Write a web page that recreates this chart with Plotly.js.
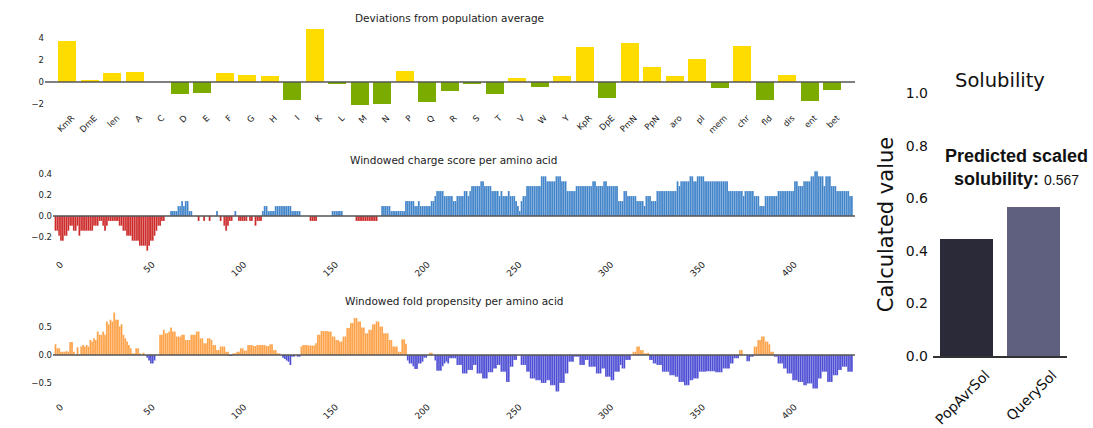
<!DOCTYPE html>
<html><head><meta charset="utf-8">
<script src="https://cdn.plot.ly/plotly-3.0.1.min.js"></script>
<style>html,body{margin:0;padding:0;background:#fff}#chart{width:1093px;height:428px}</style>
</head><body><div id="chart"></div>
<script>
const categories = ['KmR','DmE','len','A','C','D','E','F','G','H','I','K','L','M','N','P','Q','R','S','T','V','W','Y','KpR','DpE','PmN','PpN','aro','pI','mem','chr','fld','dis','ent','bet'];
const deviations = [3.73,0.15,0.82,0.9,0,-1.06,-0.97,0.82,0.64,0.55,-1.67,4.79,-0.15,-2.06,-1.97,1.03,-1.85,-0.79,-0.15,-1.06,0.39,-0.45,0.52,3.21,-1.48,3.58,1.36,0.58,2.09,-0.55,3.24,-1.61,0.64,-1.73,-0.7];

const chargeScore = [
-0.143,-0.143,-0.190,-0.238,-0.238,-0.190,-0.190,-0.143,-0.095,-0.095,
-0.143,-0.143,-0.095,-0.190,-0.143,-0.143,-0.143,-0.143,-0.143,-0.143,
-0.143,-0.095,-0.095,-0.095,-0.048,-0.048,-0.095,-0.143,-0.095,-0.048,
-0.048,-0.048,-0.048,-0.048,-0.048,-0.095,-0.095,-0.143,-0.143,-0.190,
-0.190,-0.190,-0.238,-0.238,-0.238,-0.238,-0.286,-0.286,-0.286,-0.286,
-0.333,-0.286,-0.238,-0.238,-0.190,-0.143,-0.095,-0.095,-0.048,-0.048,
0,0,0,0.048,0.048,0.048,0.048,0.095,0.095,0.143,
0.095,0.143,0.143,0.048,0.048,0,0,0,-0.048,0,
0,-0.048,0,0,-0.048,0,0,0,0.048,0,
-0.048,0,-0.095,-0.143,-0.095,-0.048,-0.048,0,0.048,0,
-0.048,-0.048,-0.048,-0.048,-0.048,0,-0.048,-0.048,0,-0.095,
-0.048,-0.048,-0.048,0.048,0.095,0.095,0.048,0.048,0.048,0.048,
0.095,0.095,0.095,0.095,0.095,0.095,0.095,0.095,0.095,0.048,
0.048,0.048,0.048,0.048,0,0,0,0,0,-0.048,
-0.048,-0.048,-0.048,0,0,0,0,0,0,0,
0,0.048,0.048,0.048,0.048,0.048,0.048,0,0,0,
0,0,0,0,-0.048,-0.048,-0.048,-0.048,-0.048,-0.048,
-0.048,-0.048,-0.048,-0.048,-0.048,-0.048,0,0,0.095,0.095,
0.095,0.095,0.095,0.048,0.048,0.048,0.048,0.048,0.048,0.048,
0.048,0.143,0.143,0.143,0.143,0.143,0.095,0.095,0.143,0.095,
0.095,0.095,0.095,0.095,0.095,0.143,0.143,0.190,0.238,0.238,
0.238,0.238,0.190,0.190,0.190,0.190,0.190,0.143,0.143,0.190,
0.190,0.190,0.190,0.238,0.238,0.190,0.238,0.286,0.286,0.286,
0.286,0.286,0.333,0.333,0.286,0.286,0.286,0.286,0.238,0.238,
0.238,0.238,0.190,0.238,0.190,0.190,0.190,0.238,0.190,0.190,
0.190,0.143,0.095,0.048,0.143,0.190,0.190,0.286,0.286,0.286,
0.286,0.286,0.286,0.286,0.286,0.381,0.381,0.381,0.333,0.333,
0.333,0.333,0.333,0.381,0.381,0.381,0.333,0.333,0.333,0.238,
0.238,0.238,0.238,0.238,0.286,0.286,0.286,0.286,0.286,0.286,
0.286,0.286,0.286,0.333,0.333,0.286,0.286,0.286,0.286,0.333,
0.333,0.286,0.286,0.286,0.286,0.286,0.286,0.143,0.143,0.143,
0.238,0.238,0.190,0.190,0.190,0.190,0.190,0.143,0.143,0.143,
0.143,0.095,0.190,0.190,0.190,0.143,0.143,0.143,0.238,0.238,
0.238,0.238,0.238,0.238,0.238,0.238,0.238,0.238,0.238,0.333,
0.286,0.333,0.333,0.333,0.333,0.333,0.381,0.381,0.333,0.333,
0.381,0.381,0.381,0.381,0.333,0.333,0.333,0.333,0.333,0.333,
0.333,0.333,0.333,0.333,0.333,0.333,0.333,0.238,0.238,0.238,
0.238,0.238,0.238,0.238,0.238,0.190,0.238,0.238,0.238,0.238,
0.238,0.190,0.190,0.190,0.095,0.095,0.095,0.190,0.190,0.190,
0.190,0.190,0.190,0.190,0.238,0.238,0.238,0.238,0.238,0.238,
0.238,0.238,0.238,0.333,0.333,0.286,0.286,0.286,0.333,0.333,
0.333,0.333,0.381,0.381,0.429,0.429,0.381,0.381,0.381,0.286,
0.381,0.381,0.381,0.286,0.286,0.286,0.238,0.238,0.238,0.238,
0.238,0.238,0.238,0.190,0.190];

const foldPropensity = [
0.19,0.12,0.12,0.06,0.06,0.06,0.07,0.06,0.23,0.23,
0.06,0,0.14,0.02,0.15,0.18,0.15,0.18,0.15,0.27,
0.24,0.30,0.27,0.42,0.36,0.36,0.42,0.36,0.60,0.55,
0.63,0.60,0.76,0.63,0.63,0.51,0.55,0.36,0.30,0.24,
0.18,0.12,0.03,0.03,0.12,0.12,0.03,0,0.04,0,
-0.05,-0.10,-0.15,-0.15,-0.10,0,0,0.36,0.36,0.45,
0.39,0.39,0.42,0.49,0.42,0.42,0.33,0.33,0.33,0.36,
0.36,0.27,0.27,0.27,0.36,0.36,0.36,0.42,0.42,0.30,
0.30,0.21,0.21,0.30,0.30,0.27,0.18,0.18,0.09,0.09,
0.15,0.15,0.15,0.06,0.06,-0.02,-0.02,0.03,0.03,0.06,
0.06,0.12,0.12,0.08,0.08,0.18,0.18,0.18,0.16,0.16,
0.18,0.18,0.18,0.18,0.18,0.16,0.16,0.19,0.19,0.09,
0.09,0.03,0.03,0,-0.05,-0.07,-0.10,-0.12,-0.18,-0.03,
-0.03,0,-0.03,-0.03,0.15,0.18,0.18,0.18,0.17,0.17,
0.17,0.17,0.21,0.36,0.36,0.43,0.43,0.43,0.43,0.42,
0.42,0.33,0.33,0.27,0.27,0.24,0.24,0.33,0.33,0.48,
0.48,0.57,0.57,0.66,0.66,0.60,0.60,0.49,0.49,0.39,
0.39,0.45,0.45,0.55,0.55,0.60,0.60,0.51,0.51,0.39,
0.39,0.39,0.27,0.27,0.15,0.15,0.15,0.06,0.06,0.28,
0.28,0.20,-0.10,-0.15,-0.15,-0.20,-0.25,-0.25,-0.15,-0.15,
-0.12,-0.05,-0.05,0,0.04,0.04,0,-0.10,-0.28,-0.28,
-0.28,-0.20,-0.15,-0.12,-0.15,-0.06,-0.06,-0.06,-0.06,-0.18,
-0.18,-0.18,-0.33,-0.33,-0.33,-0.27,-0.27,-0.27,-0.18,-0.18,
-0.33,-0.33,-0.33,-0.42,-0.42,-0.42,-0.31,-0.31,-0.31,-0.24,
-0.24,-0.18,-0.18,-0.30,-0.30,-0.30,-0.48,-0.48,-0.21,-0.21,
-0.09,-0.09,0,0,-0.18,-0.18,-0.18,-0.30,-0.30,-0.42,
-0.42,-0.42,-0.45,-0.45,-0.45,-0.50,-0.50,-0.50,-0.45,-0.45,
-0.54,-0.54,-0.54,-0.65,-0.65,-0.50,-0.50,-0.50,-0.33,-0.33,
-0.12,-0.12,-0.12,-0.03,-0.03,-0.03,-0.18,-0.18,-0.18,-0.09,
-0.09,-0.21,-0.21,-0.21,-0.21,-0.33,-0.33,-0.33,-0.24,-0.24,
-0.39,-0.39,-0.39,-0.45,-0.45,-0.30,-0.30,-0.30,-0.18,-0.24,
-0.24,-0.09,-0.09,-0.09,0,0.06,0.06,0.15,0.15,0.09,
0.09,0.03,0.03,0.04,-0.09,-0.09,-0.15,-0.15,-0.18,-0.18,
-0.18,-0.30,-0.30,-0.30,-0.30,-0.36,-0.36,-0.36,-0.39,-0.39,
-0.48,-0.48,-0.48,-0.54,-0.54,-0.54,-0.45,-0.45,-0.42,-0.42,
-0.42,-0.30,-0.30,-0.30,-0.30,-0.29,-0.29,-0.29,-0.29,-0.29,
-0.31,-0.31,-0.31,-0.31,-0.24,-0.24,-0.24,-0.24,-0.15,-0.15,
-0.06,-0.06,-0.06,0.09,0.09,0,0,-0.11,-0.11,-0.03,
-0.03,0.15,0.15,0.27,0.27,0.33,0.33,0.24,0.24,0.19,
0.06,0.06,-0.03,-0.03,-0.15,-0.15,-0.15,-0.24,-0.24,-0.33,
-0.33,-0.33,-0.45,-0.45,-0.45,-0.48,-0.48,-0.48,-0.54,-0.54,
-0.51,-0.51,-0.51,-0.60,-0.60,-0.60,-0.42,-0.42,-0.30,-0.30,
-0.30,-0.48,-0.48,-0.48,-0.36,-0.36,-0.36,-0.27,-0.27,-0.21,
-0.21,-0.21,-0.30,-0.30,-0.30];

const residueTicks = [0,50,100,150,200,250,300,350,400];
const solCategories = ['PopAvrSol','QuerySol'];
const solValues = [0.446, 0.567];
const predictedSolubility = 0.567;

const W = 1093, H = 428;
const px = v => v / W;
const py = v => 1 - v / H;
const residues = chargeScore.map((_, i) => i);
const FONT = 'DejaVu Sans, sans-serif';
const tickF = {family: FONT, size: 8.5, color: '#222'};
const sep = {width:0.3, color:'rgba(255,255,255,0.55)'};

const traces = [
  {type:'bar', x: categories, y: deviations, xaxis:'x', yaxis:'y', width: 0.8,
   marker:{color: deviations.map(v => v < 0 ? '#7cab00' : '#ffdc00'), line:{width:0}}},
  {type:'bar', x: residues, y: chargeScore, xaxis:'x2', yaxis:'y2', width: 1,
   marker:{color: chargeScore.map(v => v < 0 ? '#cc2424' : '#3b80c8'), line: sep}},
  {type:'bar', x: residues, y: foldPropensity, xaxis:'x3', yaxis:'y3', width: 1,
   marker:{color: foldPropensity.map(v => v < 0 ? '#4848d4' : '#fd9f42'), line: sep}},
  {type:'bar', x: solCategories, y: solValues, xaxis:'x4', yaxis:'y4', width: 0.8,
   marker:{color: ['#2b2a38', '#5f5f7f'], line:{width:0}}}
];

const baseX = {showgrid:false, zeroline:false, showline:false, ticks:'', tickfont: tickF, fixedrange:true};
const baseY = {showgrid:false, zeroline:false, showline:false, ticks:'', tickfont: tickF, fixedrange:true};

const zeroLine = (xa, ya) => ({type:'line', xref: xa + ' domain', yref: ya, x0:0, x1:1, y0:0, y1:0,
  line:{color:'#555', width:1.5}, layer:'above'});

const numTickF = {family: FONT, size: 9, color: '#222'};

const layout = {
  width: W, height: H, margin:{l:0,r:0,t:0,b:0}, paper_bgcolor:'#fff', plot_bgcolor:'rgba(0,0,0,0)',
  showlegend:false, bargap:0,
  xaxis: Object.assign({}, baseX, {domain:[px(45), px(855)], anchor:'y', type:'category', range:[-0.98, 35.02],
    tickangle:-45, ticklabelshift:5, ticklabelstandoff:2}),
  yaxis: Object.assign({}, baseY, {domain:[py(108.4), py(26)], anchor:'x', range:[-2.4, 5.1], tickvals:[-2,0,2,4]}),
  xaxis2: Object.assign({}, baseX, {domain:[px(53), px(855)], anchor:'y2', range:[-1.36, 435.7],
    tickvals: residueTicks, tickangle:-45, ticklabelshift:5, ticklabelstandoff:2, tickfont: numTickF}),
  yaxis2: Object.assign({}, baseY, {domain:[py(254.5), py(169)], anchor:'x2', range:[-0.37, 0.45],
    tickvals:[-0.2,0,0.2,0.4], tickformat:'.1f'}),
  xaxis3: Object.assign({}, baseX, {domain:[px(53), px(855)], anchor:'y3', range:[-1.36, 435.7],
    tickvals: residueTicks, tickangle:-45, ticklabelshift:5, ticklabelstandoff:2, tickfont: numTickF}),
  yaxis3: Object.assign({}, baseY, {domain:[py(397), py(307.4)], anchor:'x3', range:[-0.75, 0.85],
    tickvals:[-0.5,0,0.5], tickformat:'.1f'}),
  xaxis4: Object.assign({}, baseX, {domain:[px(933), px(1067)], anchor:'y4', type:'category', range:[-0.5, 1.5],
    showline:true, linecolor:'#333', linewidth:1.5, tickangle:-45, ticklabelshift:19, ticklabelstandoff:4,
    tickfont:{family: FONT, size:14, color:'#111'}}),
  yaxis4: Object.assign({}, baseY, {domain:[py(356), py(93)], anchor:'x4', range:[0, 1], dtick:0.2, tick0:0,
    tickformat:'.1f', ticklabelstandoff:4, tickfont:{family: FONT, size:14, color:'#111'},
    title:{text:'Calculated value', font:{family: FONT, size:21, color:'#111'}, standoff:6}}),
  shapes: [zeroLine('x','y'), zeroLine('x2','y2'), zeroLine('x3','y3')],
  annotations: [
    {xref:'paper', yref:'paper', x:px(449), y:py(18), text:'Deviations from population average', showarrow:false,
     xanchor:'center', yanchor:'middle', font:{family: FONT, size:10.5, color:'#222'}},
    {xref:'paper', yref:'paper', x:px(453), y:py(160), text:'Windowed charge score per amino acid', showarrow:false,
     xanchor:'center', yanchor:'middle', font:{family: FONT, size:10.5, color:'#222'}},
    {xref:'paper', yref:'paper', x:px(454), y:py(301), text:'Windowed fold propensity per amino acid', showarrow:false,
     xanchor:'center', yanchor:'middle', font:{family: FONT, size:10.5, color:'#222'}},
    {xref:'paper', yref:'paper', x:px(1000), y:py(80), text:'Solubility', showarrow:false,
     xanchor:'center', yanchor:'middle', font:{family: FONT, size:19.5, color:'#111'}},
    {xref:'paper', yref:'paper', x:px(1016), y:py(167), showarrow:false, xanchor:'center', yanchor:'middle',
     text:'<b>Predicted scaled</b><br><b>solubility:</b> <span style="font-size:14px">' + predictedSolubility.toFixed(3) + '</span>',
     font:{family:'Liberation Sans, Arial, sans-serif', size:18, color:'#111'}}
  ]
};

Plotly.newPlot('chart', traces, layout, {staticPlot:true, displayModeBar:false});
</script>
</body></html>
